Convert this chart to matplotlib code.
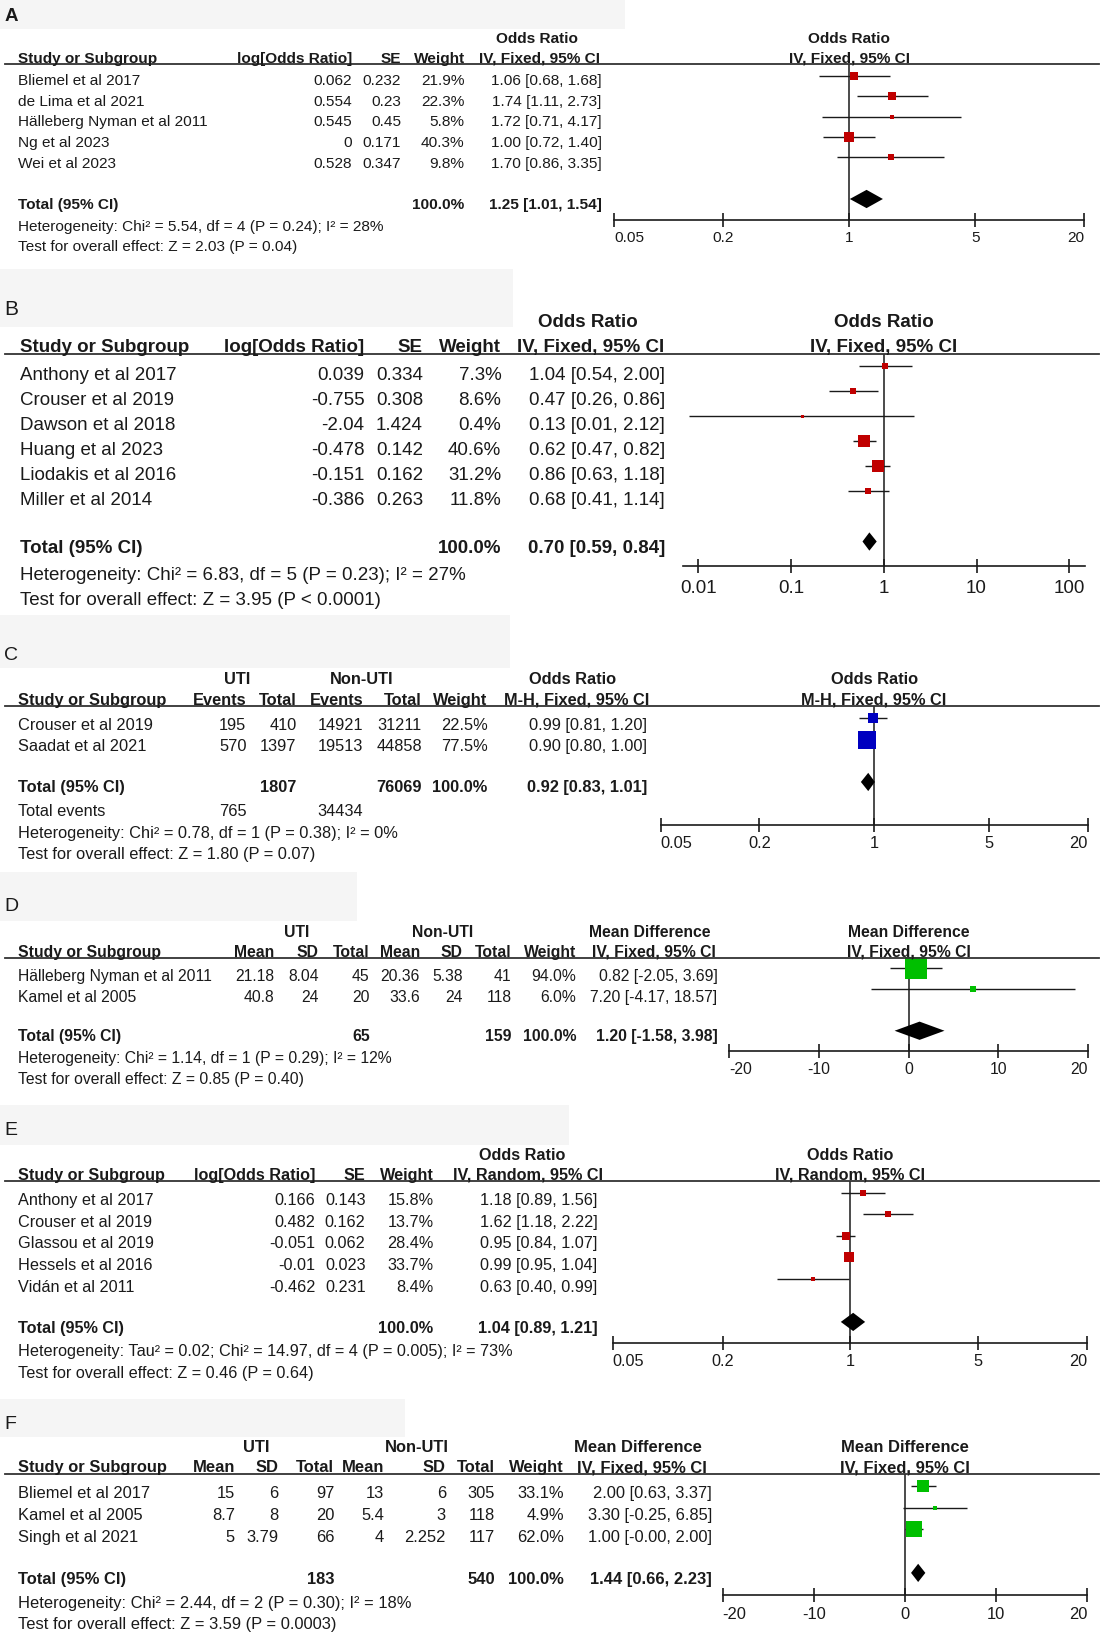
import numpy as np
import matplotlib.pyplot as plt
from matplotlib.lines import Line2D
from matplotlib.patches import Rectangle

plt.rcParams['font.family'] = ['Liberation Sans', 'DejaVu Sans']

# ---------------- data ----------------
# A
a_study = ['Bliemel et al 2017', 'de Lima et al 2021', 'Hälleberg Nyman et al 2011',
           'Ng et al 2023', 'Wei et al 2023']
a_logor = [0.062, 0.554, 0.545, 0, 0.528]
a_se = [0.232, 0.23, 0.45, 0.171, 0.347]
a_weight = [21.9, 22.3, 5.8, 40.3, 9.8]
a_or = [1.06, 1.74, 1.72, 1.00, 1.70]
a_lo = [0.68, 1.11, 0.71, 0.72, 0.86]
a_hi = [1.68, 2.73, 4.17, 1.40, 3.35]
a_total = [1.25, 1.01, 1.54]
a_het = 'Heterogeneity: Chi² = 5.54, df = 4 (P = 0.24); I² = 28%'
a_test = 'Test for overall effect: Z = 2.03 (P = 0.04)'

# B
b_study = ['Anthony et al 2017', 'Crouser et al 2019', 'Dawson et al 2018',
           'Huang et al 2023', 'Liodakis et al 2016', 'Miller et al 2014']
b_logor = [0.039, -0.755, -2.04, -0.478, -0.151, -0.386]
b_se = [0.334, 0.308, 1.424, 0.142, 0.162, 0.263]
b_weight = [7.3, 8.6, 0.4, 40.6, 31.2, 11.8]
b_or = [1.04, 0.47, 0.13, 0.62, 0.86, 0.68]
b_lo = [0.54, 0.26, 0.008, 0.47, 0.63, 0.41]
b_hi = [2.00, 0.86, 2.12, 0.82, 1.18, 1.14]
b_total = [0.70, 0.59, 0.84]
b_het = 'Heterogeneity: Chi² = 6.83, df = 5 (P = 0.23); I² = 27%'
b_test = 'Test for overall effect: Z = 3.95 (P < 0.0001)'

# C
c_study = ['Crouser et al 2019', 'Saadat et al 2021']
c_uti_events = [195, 570]
c_uti_total = [410, 1397]
c_non_events = [14921, 19513]
c_non_total = [31211, 44858]
c_weight = [22.5, 77.5]
c_or = [0.99, 0.90]
c_lo = [0.81, 0.80]
c_hi = [1.20, 1.00]
c_total = [0.92, 0.83, 1.01]
c_sum = [765, 1807, 34434, 76069]
c_het = 'Heterogeneity: Chi² = 0.78, df = 1 (P = 0.38); I² = 0%'
c_test = 'Test for overall effect: Z = 1.80 (P = 0.07)'

# D
d_study = ['Hälleberg Nyman et al 2011', 'Kamel et al 2005']
d_uti_mean = [21.18, 40.8]
d_uti_sd = [8.04, 24]
d_uti_n = [45, 20]
d_non_mean = [20.36, 33.6]
d_non_sd = [5.38, 24]
d_non_n = [41, 118]
d_weight = [94.0, 6.0]
d_md = [0.82, 7.20]
d_lo = [-2.05, -4.17]
d_hi = [3.69, 18.57]
d_total = [1.20, -1.58, 3.98]
d_sum = [65, 159]
d_het = 'Heterogeneity: Chi² = 1.14, df = 1 (P = 0.29); I² = 12%'
d_test = 'Test for overall effect: Z = 0.85 (P = 0.40)'

# E
e_study = ['Anthony et al 2017', 'Crouser et al 2019', 'Glassou et al 2019',
           'Hessels et al 2016', 'Vidán et al 2011']
e_logor = [0.166, 0.482, -0.051, -0.01, -0.462]
e_se = [0.143, 0.162, 0.062, 0.023, 0.231]
e_weight = [15.8, 13.7, 28.4, 33.7, 8.4]
e_or = [1.18, 1.62, 0.95, 0.99, 0.63]
e_lo = [0.89, 1.18, 0.84, 0.95, 0.40]
e_hi = [1.56, 2.22, 1.07, 1.04, 0.99]
e_total = [1.04, 0.89, 1.21]
e_het = 'Heterogeneity: Tau² = 0.02; Chi² = 14.97, df = 4 (P = 0.005); I² = 73%'
e_test = 'Test for overall effect: Z = 0.46 (P = 0.64)'

# F
f_study = ['Bliemel et al 2017', 'Kamel et al 2005', 'Singh et al 2021']
f_uti_mean = [15, 8.7, 5]
f_uti_sd = [6, 8, 3.79]
f_uti_n = [97, 20, 66]
f_non_mean = [13, 5.4, 4]
f_non_sd = [6, 3, 2.252]
f_non_n = [305, 118, 117]
f_weight = [33.1, 4.9, 62.0]
f_md = [2.00, 3.30, 1.00]
f_lo = [0.63, -0.25, -0.0]
f_hi = [3.37, 6.85, 2.00]
f_total = [1.44, 0.66, 2.23]
f_sum = [183, 540]
f_het = 'Heterogeneity: Chi² = 2.44, df = 2 (P = 0.30); I² = 18%'
f_test = 'Test for overall effect: Z = 3.59 (P = 0.0003)'

or_ticks = [0.05, 0.2, 1, 5, 20]
or_labels = ['0.05', '0.2', '1', '5', '20']
b_ticks = [0.01, 0.1, 1, 10, 100]
b_labels = ['0.01', '0.1', '1', '10', '100']
md_ticks = [-20, -10, 0, 10, 20]
md_labels = ['-20', '-10', '0', '10', '20']

RED = '#c00000'
BLUE = '#0000c0'
GREEN = '#00bf00'

# layout grid (reference pixels)
W, H = 1060.0, 1568.0

fig = plt.figure(figsize=(11.07, 16.37), dpi=100)
fig.patch.set_facecolor('white')


def txt(x, y, s, size, ha='left', bold=False, va='center'):
    if va == 'center':
        y = y + 2.5   # matplotlib centres on the box incl. descent
    fig.text(x / W, 1 - y / H, s, fontsize=size, ha=ha, va=va,
             fontweight='bold' if bold else 'normal', color='#1a1a1a')


def row(y, cells, size, bold=False, va='center'):
    # first cell left aligned, the others right aligned
    for j, (x, s) in enumerate(cells):
        txt(x, y, s, size, 'left' if j == 0 else 'right', bold, va)


def head_line(y):
    fig.add_artist(Line2D([5 / W, 1052 / W], [1 - y / H] * 2, color='#333333', lw=1.3))


def grey_box(x0, y0, x1, y1):
    fig.add_artist(Rectangle((x0 / W, 1 - y1 / H), (x1 - x0) / W, (y1 - y0) / H,
                             facecolor='#f5f5f5', lw=0, zorder=0))


def ci(e, l, h):
    return '{:.2f} [{:.2f}, {:.2f}]'.format(e, l, h)


def forest(x0, x1, top, axis_y, row0, dy, est, lo, hi, wts, k, color, tot, tot_y,
           xlim, ticks, labels, size, log=True, edge_align=True, pad=3):
    ax = fig.add_axes([x0 / W, 1 - axis_y / H, (x1 - x0) / W, (axis_y - top) / H])
    ax.patch.set_visible(False)
    if log:
        ax.set_xscale('log')
    ax.set_xlim(*xlim)
    ax.set_ylim((axis_y - row0) / dy, (top - row0) / dy)
    yy = np.arange(len(est))
    ax.hlines(yy, lo, hi, color='#1a1a1a', lw=1.0, zorder=2)
    for e, y, w in zip(est, yy, wts):
        side = max(3.0, k * np.sqrt(w)) * 0.72
        ax.plot([e], [y], marker='s', ms=side, mew=0, color=color, zorder=3, clip_on=False)
    ty = (tot_y - row0) / dy
    h = 8.75 / dy
    ax.fill([tot[1], tot[0], tot[2], tot[0]], [ty, ty - h, ty, ty + h],
            color='black', lw=0, zorder=4)
    ax.axvline(1 if log else 0, color='#1a1a1a', lw=1.1, zorder=1)
    for s in ['top', 'left', 'right']:
        ax.spines[s].set_visible(False)
    ax.spines['bottom'].set_linewidth(1.2)
    ax.spines['bottom'].set_color('#1a1a1a')
    ax.set_yticks([])
    ax.set_xticks(ticks)
    ax.set_xticklabels(labels)
    ax.minorticks_off()
    ax.tick_params(axis='x', direction='inout', length=10, width=1.2,
                   labelsize=size, pad=pad, colors='#1a1a1a')
    if edge_align:
        tl = ax.get_xticklabels()
        tl[0].set_ha('left')
        tl[-1].set_ha('right')
    # x of the null line in layout pixels
    if log:
        frac = -np.log10(xlim[0]) / (np.log10(xlim[1]) - np.log10(xlim[0]))
    else:
        frac = -xlim[0] / (xlim[1] - xlim[0])
    return x0 + frac * (x1 - x0)


# ================= A =================
fs = 11.1
grey_box(0, 0, 598, 28)
txt(4, 13, 'A', 13.5, bold=True)
line = 61.6
head_line(line)
nx = forest(588, 1038, line, 210.7, 72.8, 19.5, a_or, a_lo, a_hi, a_weight, 1.7, RED,
            a_total, 190.6, (0.05, 20), or_ticks, or_labels, fs)
txt(514, 34.5, 'Odds Ratio', fs, 'center', True)
txt(nx, 34.5, 'Odds Ratio', fs, 'center', True)
row(line - 1.5, [(17, 'Study or Subgroup'), (337, 'log[Odds Ratio]'), (384, 'SE'),
                 (445, 'Weight')], fs, True, 'baseline')
txt(517, line - 1.5, 'IV, Fixed, 95% CI', fs, 'center', True, 'baseline')
txt(nx, line - 1.5, 'IV, Fixed, 95% CI', fs, 'center', True, 'baseline')
for i in range(len(a_study)):
    row(75 + i * 19.9, [(17, a_study[i]), (337, '{:g}'.format(a_logor[i])),
                        (384, '{:g}'.format(a_se[i])), (445, '{:.1f}%'.format(a_weight[i])),
                        (576, ci(a_or[i], a_lo[i], a_hi[i]))], fs)
row(193.5, [(17, 'Total (95% CI)'), (445, '100.0%'), (576, ci(*a_total))], fs, True)
txt(17, 214.5, a_het, fs)
txt(17, 234.5, a_test, fs)

# ================= B =================
fs = 13.5
grey_box(0, 258, 491, 313)
txt(4, 293.5, 'B', 15)
line = 339
head_line(line)
nx = forest(653.7, 1039, line, 542, 350.5, 23.9, b_or, b_lo, b_hi, b_weight, 2.0, RED,
            b_total, 518.7, (0.0068, 148), b_ticks, b_labels, fs, edge_align=False, pad=5)
txt(563, 306.5, 'Odds Ratio', fs, 'center', True)
txt(nx, 306.5, 'Odds Ratio', fs, 'center', True)
row(line - 1.5, [(19, 'Study or Subgroup'), (349, 'log[Odds Ratio]'), (405, 'SE'),
                 (480, 'Weight')], fs, True, 'baseline')
txt(566, line - 1.5, 'IV, Fixed, 95% CI', fs, 'center', True, 'baseline')
txt(nx, line - 1.5, 'IV, Fixed, 95% CI', fs, 'center', True, 'baseline')
for i in range(len(b_study)):
    row(357 + i * 23.95, [(19, b_study[i]), (349, '{:g}'.format(b_logor[i])),
                          (405, '{:g}'.format(b_se[i])), (480, '{:.1f}%'.format(b_weight[i])),
                          (637, ci(b_or[i], b_lo[i], b_hi[i]))], fs)
row(523, [(19, 'Total (95% CI)'), (480, '100.0%'), (637, ci(*b_total))], fs, True)
txt(19, 548.5, b_het, fs)
txt(19, 572.5, b_test, fs)

# ================= C =================
fs = 11.8
grey_box(0, 589, 488, 640)
txt(4, 625, 'C', 14)
line = 676.7
head_line(line)
nx = forest(632.6, 1041.5, line, 790, 687.5, 21.5, c_or, c_lo, c_hi, c_weight, 2.0, BLUE,
            c_total, 749, (0.05, 20), or_ticks, or_labels, fs)
txt(227, 648.5, 'UTI', fs, 'center', True)
txt(346, 648.5, 'Non-UTI', fs, 'center', True)
txt(548, 648.5, 'Odds Ratio', fs, 'center', True)
txt(nx, 648.5, 'Odds Ratio', fs, 'center', True)
row(line - 1.5, [(17, 'Study or Subgroup'), (236, 'Events'), (284, 'Total'), (348, 'Events'),
                 (404, 'Total'), (467, 'Weight')], fs, True, 'baseline')
txt(552, line - 1.5, 'M-H, Fixed, 95% CI', fs, 'center', True, 'baseline')
txt(nx, line - 1.5, 'M-H, Fixed, 95% CI', fs, 'center', True, 'baseline')
for i in range(len(c_study)):
    row(692 + i * 20.7, [(17, c_study[i]), (236, str(c_uti_events[i])), (284, str(c_uti_total[i])),
                         (348, str(c_non_events[i])), (404, str(c_non_total[i])),
                         (467, '{:.1f}%'.format(c_weight[i])),
                         (620, ci(c_or[i], c_lo[i], c_hi[i]))], fs)
row(752, [(17, 'Total (95% CI)'), (284, str(c_sum[1])), (404, str(c_sum[3])),
          (467, '100.0%'), (620, ci(*c_total))], fs, True)
row(775, [(17, 'Total events'), (236, str(c_sum[0])), (348, str(c_sum[2]))], fs)
txt(17, 795.5, c_het, fs)
txt(17, 816, c_test, fs)

# ================= D =================
fs = 11.3
grey_box(0, 835, 342, 882)
txt(4, 865.5, 'D', 14)
line = 917.7
head_line(line)
nx = forest(698.4, 1042, line, 1007, 927.3, 19.7, d_md, d_lo, d_hi, d_weight, 2.2, GREEN,
            d_total, 987.3, (-20, 20), md_ticks, md_labels, fs, log=False)
txt(284, 890.5, 'UTI', fs, 'center', True)
txt(424, 890.5, 'Non-UTI', fs, 'center', True)
txt(622, 890.5, 'Mean Difference', fs, 'center', True)
txt(nx, 890.5, 'Mean Difference', fs, 'center', True)
row(line - 1.5, [(17, 'Study or Subgroup'), (263, 'Mean'), (305, 'SD'), (354, 'Total'),
                 (402, 'Mean'), (443, 'SD'), (490, 'Total'), (552, 'Weight')], fs, True, 'baseline')
txt(626, line - 1.5, 'IV, Fixed, 95% CI', fs, 'center', True, 'baseline')
txt(nx, line - 1.5, 'IV, Fixed, 95% CI', fs, 'center', True, 'baseline')
for i in range(len(d_study)):
    row(932.5 + i * 20, [(17, d_study[i]), (263, '{:g}'.format(d_uti_mean[i])),
                         (305, '{:g}'.format(d_uti_sd[i])), (354, str(d_uti_n[i])),
                         (402, '{:g}'.format(d_non_mean[i])), (443, '{:g}'.format(d_non_sd[i])),
                         (490, str(d_non_n[i])), (552, '{:.1f}%'.format(d_weight[i])),
                         (687, ci(d_md[i], d_lo[i], d_hi[i]))], fs)
row(990.5, [(17, 'Total (95% CI)'), (354, str(d_sum[0])), (490, str(d_sum[1])),
            (552, '100.0%'), (687, ci(*d_total))], fs, True)
txt(17, 1011.5, d_het, fs)
txt(17, 1031.5, d_test, fs)

# ================= E =================
fs = 11.7
grey_box(0, 1058, 545, 1097)
txt(4, 1080.5, 'E', 14)
line = 1131.5
head_line(line)
nx = forest(586.7, 1041.2, line, 1286.7, 1142.4, 20.6, e_or, e_lo, e_hi, e_weight, 1.6, RED,
            e_total, 1266.2, (0.05, 20), or_ticks, or_labels, fs)
txt(500, 1104, 'Odds Ratio', fs, 'center', True)
txt(nx, 1104, 'Odds Ratio', fs, 'center', True)
row(line - 1.5, [(17, 'Study or Subgroup'), (302, 'log[Odds Ratio]'), (350, 'SE'),
                 (415, 'Weight')], fs, True, 'baseline')
txt(506, line - 1.5, 'IV, Random, 95% CI', fs, 'center', True, 'baseline')
txt(nx, line - 1.5, 'IV, Random, 95% CI', fs, 'center', True, 'baseline')
for i in range(len(e_study)):
    row(1147.5 + i * 20.7, [(17, e_study[i]), (302, '{:g}'.format(e_logor[i])),
                            (350, '{:g}'.format(e_se[i])), (415, '{:.1f}%'.format(e_weight[i])),
                            (572, ci(e_or[i], e_lo[i], e_hi[i]))], fs)
row(1270, [(17, 'Total (95% CI)'), (415, '100.0%'), (572, ci(*e_total))], fs, True)
txt(17, 1292.5, e_het, fs)
txt(17, 1313, e_test, fs)

# ================= F =================
fs = 11.9
grey_box(0, 1340, 388, 1376)
txt(4, 1362, 'F', 14)
line = 1411.8
head_line(line)
nx = forest(692, 1041.2, line, 1527.3, 1423, 21, f_md, f_lo, f_hi, f_weight, 2.0, GREEN,
            f_total, 1506.6, (-20, 20), md_ticks, md_labels, fs, log=False, pad=4)
txt(245, 1384, 'UTI', fs, 'center', True)
txt(399, 1384, 'Non-UTI', fs, 'center', True)
txt(611, 1384, 'Mean Difference', fs, 'center', True)
txt(nx, 1384, 'Mean Difference', fs, 'center', True)
row(line - 1.5, [(17, 'Study or Subgroup'), (225, 'Mean'), (267, 'SD'), (320, 'Total'),
                 (368, 'Mean'), (427, 'SD'), (474, 'Total'), (540, 'Weight')], fs, True, 'baseline')
txt(615, line - 1.5, 'IV, Fixed, 95% CI', fs, 'center', True, 'baseline')
txt(nx, line - 1.5, 'IV, Fixed, 95% CI', fs, 'center', True, 'baseline')
for i in range(len(f_study)):
    row(1428 + i * 21, [(17, f_study[i]), (225, '{:g}'.format(f_uti_mean[i])),
                        (267, '{:g}'.format(f_uti_sd[i])), (320, str(f_uti_n[i])),
                        (368, '{:g}'.format(f_non_mean[i])), (427, '{:g}'.format(f_non_sd[i])),
                        (474, str(f_non_n[i])), (540, '{:.1f}%'.format(f_weight[i])),
                        (682, ci(f_md[i], f_lo[i], f_hi[i]))], fs)
row(1510, [(17, 'Total (95% CI)'), (320, str(f_sum[0])), (474, str(f_sum[1])),
           (540, '100.0%'), (682, ci(*f_total))], fs, True)
txt(17, 1533, f_het, fs)
txt(17, 1554, f_test, fs)

fig.savefig('out.png', dpi=100, facecolor='white')
